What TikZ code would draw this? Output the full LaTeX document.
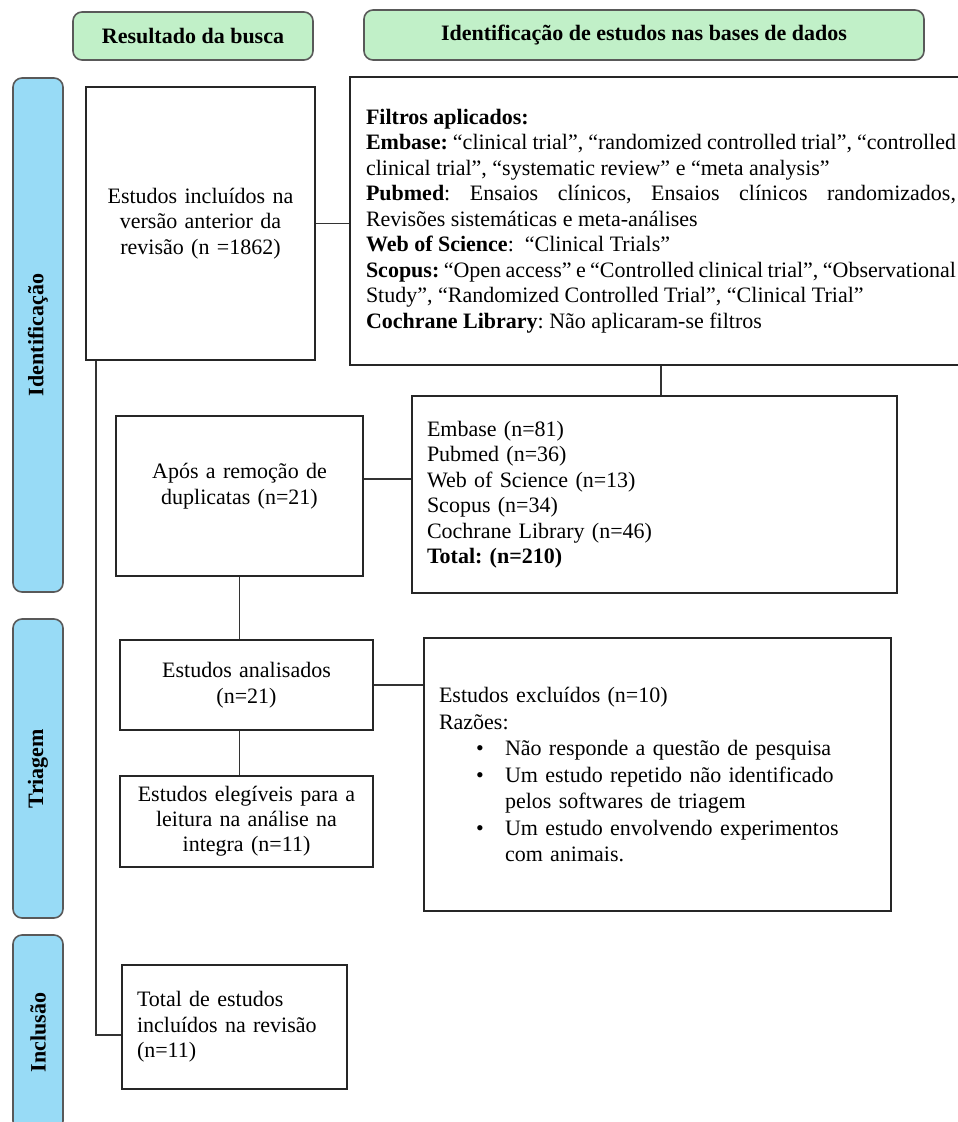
\documentclass[tikz,border=0pt]{standalone}
\usepackage{fontspec}
\setmainfont{Liberation Serif}
\frenchspacing
\definecolor{verdecab}{RGB}{193,240,200}
\definecolor{azulbar}{RGB}{152,219,246}
\newcommand{\fonte}{\fontsize{22}{25.5}\selectfont}
\tikzset{
    node style box/.style={draw=black!85,line width=1.5pt,rectangle,inner sep=0pt,font=\fonte},
    node style head/.style={draw=black!65,line width=1.6pt,rounded corners=9pt,fill=verdecab,font=\fonte\bfseries},
    node style bar/.style={draw=black!65,line width=1.6pt,rounded corners=9pt,fill=azulbar,rotate=90,minimum height=50pt,font=\fonte\bfseries},
    line style con/.style={draw=black!80,line width=1.8pt},
}

\begin{document}
\begin{tikzpicture}[x=1pt,y=-1pt]
\useasboundingbox (0,0) rectangle (958,1122);
\clip (0,0) rectangle (958,1122);
% cabecalhos
\node [node style head, minimum width=240pt, minimum height=48pt] (busca) at (193,36)
    {Resultado da busca};
\node [node style head, minimum width=560pt, minimum height=50pt] (bases) at (644,35)
    {Identificação de estudos nas bases de dados};
% fases
\node [node style bar, minimum width=514pt] (ident) at (38,335) {Identificação};
\node [node style bar, minimum width=299pt] (triag) at (38,768.5) {Triagem};
\node [node style bar, minimum width=195pt] (inclu) at (38,1032.5) {Inclusão};
% caixas
\node [node style box, minimum width=229pt, minimum height=273pt,%
       text width=209pt, align=center] (A) at (200.5,223.5)
    {Estudos incluídos na\\versão anterior da\\revisão (n =1862)};
\node [node style box, minimum width=622pt, minimum height=288pt,%
       text width=590pt, align=justify] (B) at (661,221)
{%
  \textbf{Filtros aplicados:}\\
  \textbf{Embase:} “clinical trial”, “randomized controlled trial”, “controlled\linebreak
  clinical trial”, “systematic review” e “meta analysis”\\
  \textbf{Pubmed}: Ensaios clínicos, Ensaios clínicos randomizados,\linebreak
  Revisões sistemáticas e meta-análises\\
  \textbf{Web of Science}:\ \ “Clinical Trials”\\
  \textbf{Scopus:} “Open access” e “Controlled clinical trial”, “Observational\linebreak
  Study”, “Randomized Controlled Trial”, “Clinical Trial”\\
  \textbf{Cochrane Library}: Não aplicaram-se filtros
};
\node [node style box, minimum width=485pt, minimum height=197pt,%
       text width=455pt, align=left] (C) at (654.5,494.5)
    {Embase (n=81)\\Pubmed (n=36)\\Web of Science (n=13)\\Scopus (n=34)\\%
     Cochrane Library (n=46)\\\textbf{Total: (n=210)}};
\node [node style box, minimum width=247pt, minimum height=160pt,%
       text width=227pt, align=center] (D) at (239.5,496)
    {Após a remoção de\\duplicatas (n=21)\\[-9pt]\strut};
\node [node style box, minimum width=253pt, minimum height=90pt,%
       text width=233pt, align=center] (E) at (246.5,685)
    {Estudos analisados\\(n=21)};
\node [node style box, minimum width=467pt, minimum height=273pt,%
       text width=437pt, align=left, font=\fontsize{22}{26.5}\selectfont] (F) at (657.5,774.5)
{%
  Estudos excluídos (n=10)\\
  Razões:\\
  \hspace*{37pt}\makebox[29pt][l]{\textbullet}Não responde a questão de pesquisa\\
  \hspace*{37pt}\makebox[29pt][l]{\textbullet}Um estudo repetido não identificado\\
  \hspace*{66pt}pelos softwares de triagem\\
  \hspace*{37pt}\makebox[29pt][l]{\textbullet}Um estudo envolvendo experimentos\\
  \hspace*{66pt}com animais.
};
\node [node style box, minimum width=253pt, minimum height=91pt,%
       text width=233pt, align=center, font=\fontsize{22}{25}\selectfont] (G) at (246.5,821.5)
    {Estudos elegíveis para a\\leitura na análise na\\integra (n=11)};
\node [node style box, minimum width=225pt, minimum height=124pt,%
       text width=195pt, align=left] (H) at (234.5,1027)
    {Total de estudos\\incluídos na revisão\\(n=11)};
% ligacoes
\draw [line style con] (A.east) -- (A.east -| B.west);
\draw [line style con] (B.south) -- (B.south |- C.north);
\draw [line style con] ([yshift=17pt]D.east) -- ([yshift=17pt]D.east -| C.west);
\draw [line style con] (D.south) -- (D.south |- E.north);
\draw [line style con] (E.east) -- (E.east -| F.west);
\draw [line style con] (D.south |- E.south) -- (D.south |- G.north);
\draw [line style con] ([xshift=11pt]A.south west) |- ([yshift=-8pt]H.west);
\end{tikzpicture}
\end{document}
